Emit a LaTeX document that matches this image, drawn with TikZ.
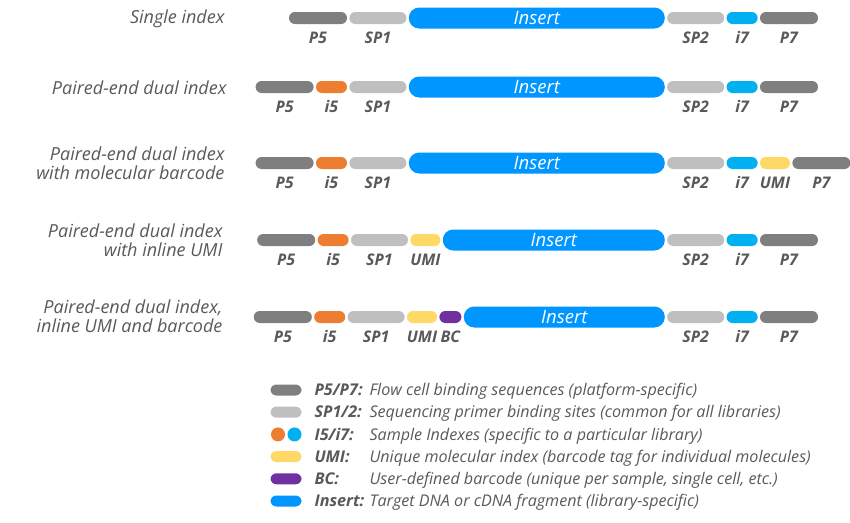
\documentclass[tikz,border=0pt]{standalone}
\usepackage{fontspec}
\setmainfont{Open Sans}
\usetikzlibrary{positioning}

\definecolor{pgray}{HTML}{7F7F7F}
\definecolor{sgray}{HTML}{BFBFBF}
\definecolor{idxorange}{HTML}{ED7D31}
\definecolor{idxblue}{HTML}{00B0F0}
\definecolor{insblue}{HTML}{0096FF}
\definecolor{umiyellow}{HTML}{FFD966}
\definecolor{bcpurple}{HTML}{7030A0}
\definecolor{txtgray}{HTML}{595959}

\tikzset{
  seg/.style={rectangle,inner sep=0pt,minimum height=12pt,rounded corners=5.9pt},
  P/.style={seg,fill=pgray,minimum width=58pt},
  SP/.style={seg,fill=sgray,minimum width=57pt},
  i5/.style={seg,fill=idxorange,minimum width=31pt},
  i7/.style={seg,fill=idxblue,minimum width=31pt},
  UMI/.style={seg,fill=umiyellow,minimum width=30pt},
  BC/.style={seg,fill=bcpurple,minimum width=22pt},
  ins/.style={rectangle,inner sep=0pt,minimum height=21pt,rounded corners=10.4pt,
    fill=insblue,text=white,anchor=east,font=\fontsize{18.5}{18.5}\selectfont\itshape},
  lbl/.style={anchor=base,text=txtgray,font=\fontsize{16}{16}\selectfont\bfseries\itshape},
  rowtitle/.style={anchor=east,align=right,text=txtgray,
    font=\fontsize{18}{19}\selectfont\itshape},
  legkey/.style={anchor=base west,text=txtgray,font=\fontsize{16.2}{16.2}\selectfont\bfseries\itshape},
  legtext/.style={anchor=base west,text=txtgray,font=\fontsize{16.1}{16.1}\selectfont\itshape},
}

\begin{document}
\begin{tikzpicture}[x=1pt,y=-1pt,node distance=2pt]
  \useasboundingbox (0,0) rectangle (850,522);

  % Single index
  \node[rowtitle] (R1 title) at (228,19) {Single index};
  \node[ins,minimum width=256pt] (R1 ins) at (665,18) {Insert};
  \node[SP] (R1 SP1) [left=of R1 ins]  {};
  \node[P]  (R1 P5)  [left=of R1 SP1]  {};
  \node[SP] (R1 SP2) [right=of R1 ins] {};
  \node[i7] (R1 i7)  [right=of R1 SP2] {};
  \node[P]  (R1 P7)  [right=of R1 i7]  {};
  \node[lbl] at ([yshift=-25pt]R1 P5.center)  {P5};
  \node[lbl] at ([yshift=-25pt]R1 SP1.center) {SP1};
  \node[lbl] at ([yshift=-25pt]R1 SP2.center) {SP2};
  \node[lbl] at ([yshift=-25pt]R1 i7.center)  {i7};
  \node[lbl] at ([yshift=-25pt]R1 P7.center)  {P7};

  % Paired-end dual index
  \node[rowtitle] (R2 title) at (230,88) {Paired-end dual index};
  \node[ins,minimum width=256pt] (R2 ins) at (665,87) {Insert};
  \node[SP] (R2 SP1) [left=of R2 ins]  {};
  \node[i5] (R2 i5)  [left=of R2 SP1]  {};
  \node[P]  (R2 P5)  [left=of R2 i5]   {};
  \node[SP] (R2 SP2) [right=of R2 ins] {};
  \node[i7] (R2 i7)  [right=of R2 SP2] {};
  \node[P]  (R2 P7)  [right=of R2 i7]  {};
  \node[lbl] at ([yshift=-25pt]R2 P5.center)  {P5};
  \node[lbl] at ([yshift=-25pt]R2 i5.center)  {i5};
  \node[lbl] at ([yshift=-25pt]R2 SP1.center) {SP1};
  \node[lbl] at ([yshift=-25pt]R2 SP2.center) {SP2};
  \node[lbl] at ([yshift=-25pt]R2 i7.center)  {i7};
  \node[lbl] at ([yshift=-25pt]R2 P7.center)  {P7};

  % With molecular barcode
  \node[rowtitle] (R3 title) at (228,163) {Paired-end dual index\\with molecular barcode};
  \node[ins,minimum width=256pt] (R3 ins) at (665,163) {Insert};
  \node[SP]  (R3 SP1) [left=of R3 ins]  {};
  \node[i5]  (R3 i5)  [left=of R3 SP1]  {};
  \node[P]   (R3 P5)  [left=of R3 i5]   {};
  \node[SP]  (R3 SP2) [right=of R3 ins] {};
  \node[i7]  (R3 i7)  [right=of R3 SP2] {};
  \node[UMI] (R3 UMI) [right=of R3 i7]  {};
  \node[P]   (R3 P7)  [right=of R3 UMI] {};
  \node[lbl] at ([yshift=-25pt]R3 P5.center)  {P5};
  \node[lbl] at ([yshift=-25pt]R3 i5.center)  {i5};
  \node[lbl] at ([yshift=-25pt]R3 SP1.center) {SP1};
  \node[lbl] at ([yshift=-25pt]R3 SP2.center) {SP2};
  \node[lbl] at ([yshift=-25pt]R3 i7.center)  {i7};
  \node[lbl] at ([yshift=-25pt]R3 UMI.center) {UMI};
  \node[lbl] at ([yshift=-25pt]R3 P7.center)  {P7};

  % With inline UMI
  \node[rowtitle] (R4 title) at (226,240) {Paired-end dual index\\with inline UMI};
  \node[ins,minimum width=222pt] (R4 ins) at (665,240) {Insert};
  \node[UMI] (R4 UMI) [left=of R4 ins]  {};
  \node[SP]  (R4 SP1) [left=of R4 UMI]  {};
  \node[i5]  (R4 i5)  [left=of R4 SP1]  {};
  \node[P]   (R4 P5)  [left=of R4 i5]   {};
  \node[SP]  (R4 SP2) [right=of R4 ins] {};
  \node[i7]  (R4 i7)  [right=of R4 SP2] {};
  \node[P]   (R4 P7)  [right=of R4 i7]  {};
  \node[lbl] at ([yshift=-25pt]R4 P5.center)  {P5};
  \node[lbl] at ([yshift=-25pt]R4 i5.center)  {i5};
  \node[lbl] at ([yshift=-25pt]R4 SP1.center) {SP1};
  \node[lbl] at ([yshift=-25pt]R4 UMI.center) {UMI};
  \node[lbl] at ([yshift=-25pt]R4 SP2.center) {SP2};
  \node[lbl] at ([yshift=-25pt]R4 i7.center)  {i7};
  \node[lbl] at ([yshift=-25pt]R4 P7.center)  {P7};

  % Inline UMI and barcode
  \node[rowtitle] (R5 title) at (226,316) {Paired-end dual index,\\inline UMI and barcode};
  \node[ins,minimum width=201pt] (R5 ins) at (665,317) {Insert};
  \node[BC]  (R5 BC)  [left=of R5 ins]  {};
  \node[UMI] (R5 UMI) [left=of R5 BC]   {};
  \node[SP]  (R5 SP1) [left=of R5 UMI]  {};
  \node[i5]  (R5 i5)  [left=of R5 SP1]  {};
  \node[P]   (R5 P5)  [left=of R5 i5]   {};
  \node[SP]  (R5 SP2) [right=of R5 ins] {};
  \node[i7]  (R5 i7)  [right=of R5 SP2] {};
  \node[P]   (R5 P7)  [right=of R5 i7]  {};
  \node[lbl] at ([yshift=-25pt]R5 P5.center)  {P5};
  \node[lbl] at ([yshift=-25pt]R5 i5.center)  {i5};
  \node[lbl] at ([yshift=-25pt]R5 SP1.center) {SP1};
  \node[lbl] at ([yshift=-25pt]R5 UMI.center) {UMI};
  \node[lbl] at ([yshift=-25pt]R5 BC.center)  {BC};
  \node[lbl] at ([yshift=-25pt]R5 SP2.center) {SP2};
  \node[lbl] at ([yshift=-25pt]R5 i7.center)  {i7};
  \node[lbl] at ([yshift=-25pt]R5 P7.center)  {P7};

  % Legend
  \node[P,minimum width=31pt,minimum height=11pt]   (L1 sw) at (286,390)   {};
  \node[SP,minimum width=31pt,minimum height=11pt]  (L2 sw) at (286,412.2) {};
  \node[circle,inner sep=0pt,minimum size=14pt,fill=idxorange] (L3 sw a) at (278,434.4) {};
  \node[circle,inner sep=0pt,minimum size=14pt,fill=idxblue]   (L3 sw b) at (294.5,434.4) {};
  \node[UMI,minimum width=31pt,minimum height=11pt] (L4 sw) at (286,456.6) {};
  \node[BC,minimum width=31pt,minimum height=11pt]  (L5 sw) at (286,478.8) {};
  \node[seg,fill=insblue,minimum width=31pt,minimum height=11pt] (L6 sw) at (286,501) {};

  \node[legkey] (L1 key) at (311,395.7) {P5/P7:};
  \node[legkey] (L2 key) at (311,417.9) {SP1/2:};
  \node[legkey] (L3 key) at (311,440.1) {I5/i7:};
  \node[legkey] (L4 key) at (311,462.3) {UMI:};
  \node[legkey] (L5 key) at (311,484.5) {BC:};
  \node[legkey] (L6 key) at (311,506.7) {Insert:};
  \node[legtext] (L1 txt) at (366,395.7) {Flow cell binding sequences (platform-specific)};
  \node[legtext] (L2 txt) at (366,417.9) {Sequencing primer binding sites (common for all libraries)};
  \node[legtext] (L3 txt) at (366,440.1) {Sample Indexes (specific to a particular library)};
  \node[legtext] (L4 txt) at (366,462.3) {Unique molecular index (barcode tag for individual molecules)};
  \node[legtext] (L5 txt) at (366,484.5) {User-defined barcode (unique per sample, single cell, etc.)};
  \node[legtext] (L6 txt) at (366,506.7) {Target DNA or cDNA fragment (library-specific)};
\end{tikzpicture}
\end{document}
